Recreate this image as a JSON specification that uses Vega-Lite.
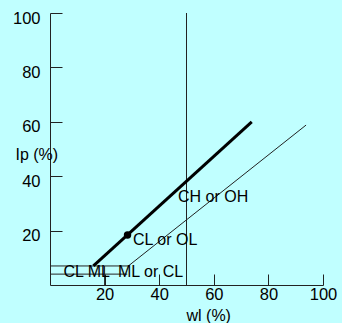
{
  "$schema": "https://vega.github.io/schema/vega-lite/v6.json",
  "autosize": "none",
  "padding": {"left": 50, "top": 13, "right": 19, "bottom": 38},
  "width": 273,
  "height": 272,
  "background": "#c0ffff",
  "config": {
    "view": {"stroke": null},
    "font": "Liberation Sans",
    "axis": {
      "domainColor": "#222",
      "tickColor": "#222",
      "labelColor": "#000",
      "titleColor": "#000",
      "labelFont": "Liberation Sans",
      "titleFont": "Liberation Sans",
      "labelFontSize": 16.5,
      "titleFontSize": 16,
      "titleFontWeight": "normal",
      "grid": false
    }
  },
  "datasets": {
    "segs": [
      {"kind": "thin", "x": 50, "y": 0, "x2": 50, "y2": 100},
      {"kind": "thin", "x": 0, "y": 7, "x2": 28.7, "y2": 7},
      {"kind": "thin", "x": 0, "y": 4, "x2": 28.3, "y2": 4},
      {"kind": "thin", "x": 20, "y": 0, "x2": 20, "y2": 7},
      {"kind": "thin", "x": 28.7, "y": 7, "x2": 93.8, "y2": 58.8},
      {"kind": "thick", "x": 15.9, "y": 7, "x2": 73.9, "y2": 60}
    ],
    "pts": [{"x": 28.4, "y": 18.4}],
    "labels": [
      {"text": "CH or OH", "x": 46.9, "y": 32.4},
      {"text": "CL or OL", "x": 30.4, "y": 16.7},
      {"text": "CL ML", "x": 4.9, "y": 4.8},
      {"text": "ML or CL", "x": 24.9, "y": 4.8}
    ]
  },
  "layer": [
    {
      "data": {"name": "segs"},
      "transform": [{"filter": "datum.kind === 'thin'"}],
      "mark": {"type": "rule", "color": "#222", "strokeWidth": 1},
      "encoding": {
        "x": {
          "field": "x", "type": "quantitative",
          "scale": {"domain": [0, 100], "nice": false},
          "axis": {
            "values": [20, 40, 60, 80, 100],
            "tickSize": -11,
            "labelPadding": 12,
            "labelFlush": false,
            "title": "wl (%)",
            "titleAnchor": "start",
            "titleAlign": "left",
            "titleBaseline": "alphabetic",
            "titleX": 136,
            "titleY": 35
          }
        },
        "y": {
          "field": "y", "type": "quantitative",
          "scale": {"domain": [0, 100], "nice": false},
          "axis": {
            "values": [20, 40, 60, 80, 100],
            "tickSize": -12,
            "labelPadding": 22,
            "labelFlush": false,
            "labelBaseline": "middle",
            "labelOffset": 5,
            "title": "Ip (%)",
            "titleAngle": 0,
            "titleAlign": "left",
            "titleBaseline": "middle",
            "titleX": -35,
            "titleY": 141
          }
        },
        "x2": {"field": "x2"},
        "y2": {"field": "y2"}
      }
    },
    {
      "data": {"name": "segs"},
      "transform": [{"filter": "datum.kind === 'thick'"}],
      "mark": {"type": "rule", "color": "#000", "strokeWidth": 3},
      "encoding": {
        "x": {"field": "x", "type": "quantitative"},
        "y": {"field": "y", "type": "quantitative"},
        "x2": {"field": "x2"},
        "y2": {"field": "y2"}
      }
    },
    {
      "data": {"name": "pts"},
      "mark": {"type": "point", "filled": true, "color": "#000", "size": 55, "opacity": 1},
      "encoding": {
        "x": {"field": "x", "type": "quantitative"},
        "y": {"field": "y", "type": "quantitative"}
      }
    },
    {
      "data": {"name": "labels"},
      "mark": {"type": "text", "align": "left", "baseline": "middle", "font": "Liberation Sans", "fontSize": 16, "color": "#000"},
      "encoding": {
        "x": {"field": "x", "type": "quantitative"},
        "y": {"field": "y", "type": "quantitative"},
        "text": {"field": "text"}
      }
    }
  ]
}
